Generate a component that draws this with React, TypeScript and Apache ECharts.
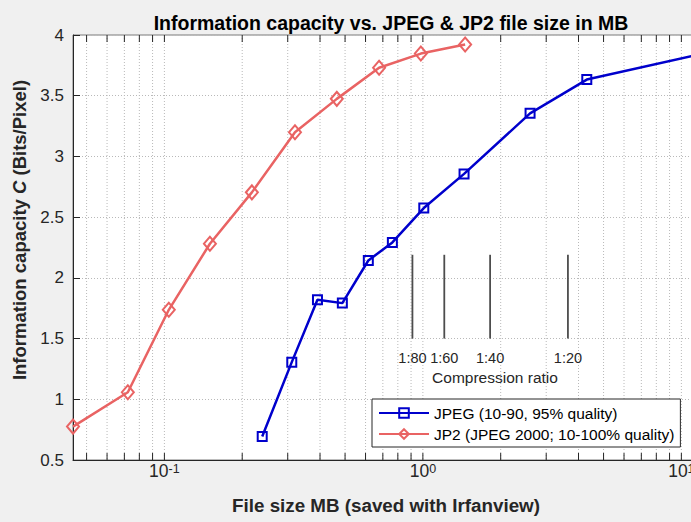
import React, { useEffect, useRef } from 'react';
import * as echarts from 'echarts';

// ---- data ----
const jpegSizeMB = [0.239, 0.311, 0.391, 0.488, 0.615, 0.762, 1.008, 1.443, 2.598, 4.306, 11.7];
const jpegCapacity = [0.693, 1.306, 1.819, 1.792, 2.143, 2.292, 2.575, 2.856, 3.355, 3.633, 3.84];
const jp2SizeMB = [0.0443, 0.0722, 0.104, 0.150, 0.218, 0.320, 0.4645, 0.677, 0.982, 1.457];
const jp2Capacity = [0.775, 1.058, 1.737, 2.281, 2.704, 3.199, 3.474, 3.730, 3.847, 3.922];
const compressionSizeMB = [0.911, 1.21, 1.82, 3.64];
const compressionLabels = ['1:80', '1:60', '1:40', '1:20'];
const compressionSpan = [1.5, 2.19];
const xTickValues = [
  0.05, 0.06, 0.07, 0.08, 0.09,
  0.1, 0.2, 0.3, 0.4, 0.5, 0.6, 0.7, 0.8, 0.9,
  1, 2, 3, 4, 5, 6, 7, 8, 9, 10,
];
const seriesNames = ['JPEG (10-90, 95% quality)', 'JP2 (JPEG 2000; 10-100% quality)'];
const X_MIN = 0.0443;
const X_MAX = 11.7;
const Y_MIN = 0.5;
const Y_MAX = 4;
const Y_STEP = 0.5;

const FONT = '"Liberation Sans", Arial, Helvetica, sans-serif';
const AXIS_COLOR = '#262626';
const GRID_COLOR = '#b9b9b9';
const BLUE = '#0000CC';
const RED = '#E96363';

// the axes box runs past the right edge of the 691px window, as in the reference
const CANVAS_W = 710;
const CANVAS_H = 522;

export default function App() {
  const ref = useRef<HTMLDivElement>(null);

  useEffect(() => {
    if (!ref.current) return;
    const chart = echarts.init(ref.current, undefined, { renderer: 'svg' });

    const option: any = {
      animation: false,
      backgroundColor: '#f0f0f0',
      textStyle: { fontFamily: FONT },
      title: {
        text: 'Information capacity vs. JPEG & JP2 file size in MB',
        left: 386,
        top: 8,
        textAlign: 'center',
        textStyle: { fontFamily: FONT, fontSize: 19.5, fontWeight: 'bold', color: '#000' },
      },
      grid: {
        show: true,
        left: 73,
        top: 35,
        right: CANVAS_W - 699,
        bottom: 62,
        backgroundColor: '#ffffff',
        borderColor: '#7a7a7a',
        borderWidth: 1,
      },
      legend: {
        data: seriesNames,
        orient: 'vertical',
        left: 372,
        top: 399,
        padding: [5, 6, 4, 6],
        itemGap: 3,
        itemWidth: 50,
        itemHeight: 12,
        backgroundColor: '#ffffff',
        borderColor: AXIS_COLOR,
        borderWidth: 1,
        textStyle: { fontFamily: FONT, fontSize: 15.5, color: '#000', lineHeight: 18 },
      },
      xAxis: {
        type: 'log',
        logBase: 10,
        min: X_MIN,
        max: X_MAX,
        name: 'File size MB (saved with Irfanview)',
        nameLocation: 'middle',
        nameGap: 36,
        nameTextStyle: { fontFamily: FONT, fontSize: 18.8, fontWeight: 'bold', color: AXIS_COLOR },
        axisLine: { show: true, onZero: false, lineStyle: { color: AXIS_COLOR, width: 1 } },
        axisTick: { show: false },
        splitLine: { show: false },
        axisLabel: {
          margin: 2,
          showMinLabel: false,
          showMaxLabel: false,
          formatter: (v: number) => {
            const e = Math.log10(v);
            if (Math.abs(e - Math.round(e)) > 1e-6) return '';
            return '{b|10}{s|' + Math.round(e) + '}';
          },
          rich: {
            b: { fontFamily: FONT, fontSize: 17.5, lineHeight: 18, color: AXIS_COLOR, padding: [4, 0, 0, 0], verticalAlign: 'bottom' },
            s: { fontFamily: FONT, fontSize: 12.5, lineHeight: 13, color: AXIS_COLOR, verticalAlign: 'top' },
          },
        },
      },
      yAxis: {
        type: 'value',
        min: Y_MIN,
        max: Y_MAX,
        interval: Y_STEP,
        name: '{b|Information capacity }{i|C}{b| (Bits/Pixel)}',
        nameLocation: 'middle',
        nameGap: 34,
        nameTextStyle: {
          padding: [0, 0, 0, 35],
          rich: {
            b: { fontFamily: FONT, fontSize: 18.5, fontWeight: 'bold', color: AXIS_COLOR },
            i: { fontFamily: FONT, fontSize: 18.5, fontWeight: 'bold', fontStyle: 'italic', color: AXIS_COLOR },
          },
        },
        axisLine: { show: true, lineStyle: { color: AXIS_COLOR, width: 1 } },
        axisTick: { show: true, inside: true, length: 7, lineStyle: { color: AXIS_COLOR } },
        axisLabel: { margin: 9, fontFamily: FONT, fontSize: 17, color: AXIS_COLOR },
        splitLine: { show: true, lineStyle: { color: GRID_COLOR, type: [1, 2], width: 1 } },
      },
      graphic: [
        {
          type: 'text',
          x: 495,
          y: 377,
          style: {
            text: 'Compression ratio',
            fill: AXIS_COLOR,
            fontFamily: FONT,
            fontSize: 15.5,
            align: 'center',
            verticalAlign: 'middle',
          },
        },
      ],
      series: [
        {
          type: 'custom',
          name: 'xgrid',
          z: 1,
          silent: true,
          data: xTickValues.map((v) => [v, Y_MIN]),
          renderItem: (params: any, api: any) => {
            const x = api.value(0);
            const top = api.coord([x, Y_MAX]);
            const bot = api.coord([x, Y_MIN]);
            return {
              type: 'group',
              children: [
                {
                  type: 'line',
                  shape: { x1: top[0], y1: top[1], x2: bot[0], y2: bot[1] },
                  style: { stroke: GRID_COLOR, lineWidth: 1, lineDash: [1, 2] },
                },
                {
                  type: 'line',
                  shape: { x1: bot[0], y1: bot[1], x2: bot[0], y2: bot[1] - 7 },
                  style: { stroke: AXIS_COLOR, lineWidth: 1 },
                },
                {
                  type: 'line',
                  shape: { x1: top[0], y1: top[1], x2: top[0], y2: top[1] + 7 },
                  style: { stroke: AXIS_COLOR, lineWidth: 1 },
                },
              ],
            };
          },
        },
        {
          type: 'custom',
          name: 'compression',
          z: 2,
          silent: true,
          data: compressionSizeMB.map((v) => [v, compressionSpan[0]]),
          renderItem: (params: any, api: any) => {
            const x = api.value(0);
            const top = api.coord([x, compressionSpan[1]]);
            const bot = api.coord([x, compressionSpan[0]]);
            return {
              type: 'group',
              children: [
                {
                  type: 'line',
                  shape: { x1: top[0], y1: top[1], x2: bot[0], y2: bot[1] },
                  style: { stroke: '#4d4d4d', lineWidth: 1.8 },
                },
                {
                  type: 'text',
                  x: bot[0],
                  y: bot[1] + 19,
                  style: {
                    text: compressionLabels[params.dataIndex],
                    fill: AXIS_COLOR,
                    fontFamily: FONT,
                    fontSize: 14.5,
                    align: 'center',
                    verticalAlign: 'middle',
                  },
                },
              ],
            };
          },
        },
        {
          type: 'line',
          name: seriesNames[0],
          z: 4,
          data: jpegSizeMB.map((x, i) => [x, jpegCapacity[i]]),
          symbol: 'rect',
          symbolSize: 9,
          lineStyle: { color: BLUE, width: 2.5 },
          itemStyle: { color: 'rgba(255,255,255,0)', borderColor: BLUE, borderWidth: 2 },
        },
        {
          type: 'line',
          name: seriesNames[1],
          z: 3,
          data: jp2SizeMB.map((x, i) => [x, jp2Capacity[i]]),
          symbol: 'diamond',
          symbolSize: [12, 14],
          lineStyle: { color: RED, width: 2.5 },
          itemStyle: { color: 'rgba(255,255,255,0)', borderColor: RED, borderWidth: 2 },
        },
      ],
    };

    chart.setOption(option);
    return () => chart.dispose();
  }, []);

  return (
    <div
      style={{
        position: 'fixed',
        left: 0,
        top: 0,
        width: 691,
        height: CANVAS_H,
        overflow: 'hidden',
        background: '#f0f0f0',
      }}
    >
      <div ref={ref} style={{ width: CANVAS_W, height: CANVAS_H }} />
    </div>
  );
}
